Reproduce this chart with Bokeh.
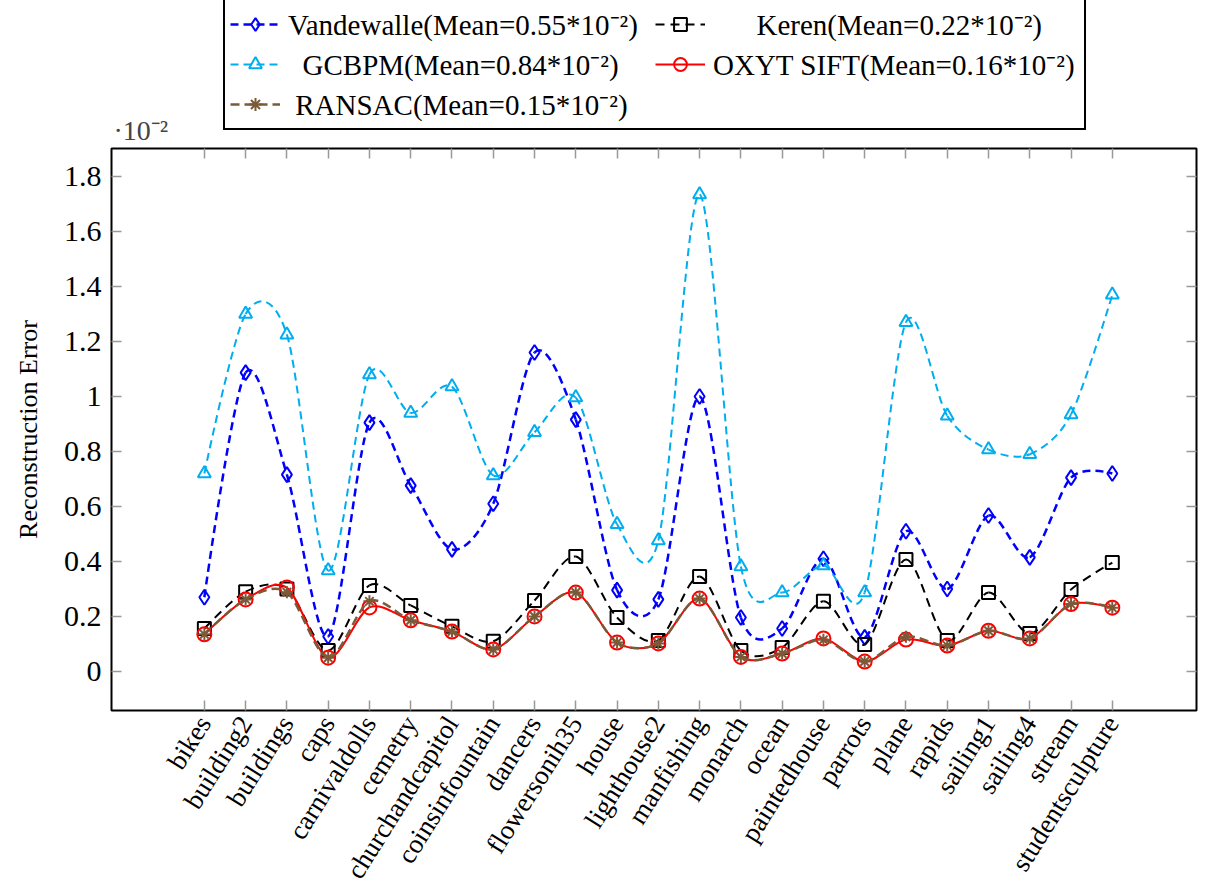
from bokeh.plotting import figure
from bokeh.layouts import column
from bokeh.models import Range1d, FixedTicker, LinearAxis, Legend, LegendItem, Label
from bokeh.embed import file_html
from bokeh.resources import INLINE

categories = ["bikes", "building2", "buildings", "caps", "carnivaldolls", "cemetry",
              "churchandcapitol", "coinsinfountain", "dancers", "flowersonih35", "house",
              "lighthouse2", "manfishing", "monarch", "ocean", "paintedhouse", "parrots",
              "plane", "rapids", "sailing1", "sailing4", "stream", "studentsculpture"]

vandewalle = [0.27, 1.087, 0.716, 0.127, 0.905, 0.676, 0.444, 0.61, 1.16, 0.916, 0.296,
              0.262, 1.0, 0.196, 0.156, 0.41, 0.124, 0.51, 0.30, 0.567, 0.415, 0.705, 0.72]
keren = [0.156, 0.29, 0.30, 0.076, 0.313, 0.24, 0.164, 0.11, 0.258, 0.418, 0.196,
         0.113, 0.345, 0.076, 0.087, 0.255, 0.098, 0.407, 0.113, 0.287, 0.138, 0.298, 0.396]
gcbpm = [0.72, 1.30, 1.225, 0.367, 1.08, 0.94, 1.036, 0.713, 0.87, 0.996, 0.535,
         0.476, 1.735, 0.382, 0.287, 0.385, 0.287, 1.27, 0.93, 0.807, 0.79, 0.935, 1.37]
oxyt = [0.135, 0.262, 0.305, 0.05, 0.233, 0.186, 0.145, 0.08, 0.2, 0.287, 0.105,
        0.102, 0.265, 0.053, 0.065, 0.12, 0.036, 0.116, 0.094, 0.148, 0.12, 0.245, 0.232]
ransac = [0.135, 0.262, 0.288, 0.05, 0.255, 0.186, 0.145, 0.08, 0.2, 0.287, 0.105,
          0.102, 0.265, 0.053, 0.065, 0.115, 0.036, 0.126, 0.094, 0.148, 0.12, 0.245, 0.232]

NB = "\u00a0"
legend_labels = ["Vandewalle(Mean=0.55*10\u207b\u00b2)",
                 NB * 6 + "Keren(Mean=0.22*10\u207b\u00b2)",
                 NB * 2 + "GCBPM(Mean=0.84*10\u207b\u00b2)",
                 "OXYT SIFT(Mean=0.16*10\u207b\u00b2)",
                 NB + "RANSAC(Mean=0.15*10\u207b\u00b2)"]

y_ticks = [0, 0.2, 0.4, 0.6, 0.8, 1, 1.2, 1.4, 1.6, 1.8]
y_tick_labels = ["0", "0.2", "0.4", "0.6", "0.8", "1", "1.2", "1.4", "1.6", "1.8"]
scale_label = "\u00b710\u207b\u00b2"

xs = list(range(len(categories)))
FONT = "Liberation Serif"

# ---------------- main chart ----------------
p = figure(width=1205, height=748, output_backend="svg", toolbar_location=None,
           x_range=Range1d(-2.25, 24.04), y_range=Range1d(-0.142, 1.902),
           min_border_left=111, min_border_right=9, min_border_top=2,
           min_border_bottom=184)
p.grid.visible = False
p.outline_line_color = "black"
p.outline_line_width = 2

bottom = p.below[0]
left = p.left[0]
bottom.ticker = FixedTicker(ticks=xs)
bottom.major_label_overrides = {i: c for i, c in enumerate(categories)}
bottom.major_label_orientation = 1.01
bottom.major_label_text_font_size = "27px"
bottom.major_label_standoff = 8
left.ticker = FixedTicker(ticks=y_ticks)
left.major_label_overrides = {t: s for t, s in zip(y_ticks, y_tick_labels)}
left.major_label_text_font_size = "30px"
left.major_label_standoff = 10
left.axis_label = "Reconstruction Error"
left.axis_label_text_font = FONT
left.axis_label_text_font_size = "26px"
left.axis_label_text_font_style = "normal"
left.axis_label_text_color = "black"
left.axis_label_standoff = 18

top = LinearAxis(ticker=FixedTicker(ticks=xs))
right = LinearAxis(ticker=FixedTicker(ticks=y_ticks))
p.add_layout(top, "above")
p.add_layout(right, "right")

for ax in [bottom, left, top, right]:
    ax.axis_line_color = None
    ax.major_tick_in = 10
    ax.major_tick_out = 0
    ax.major_tick_line_color = "#999999"
    ax.major_tick_line_width = 1.5
    ax.minor_tick_line_color = None
    ax.major_label_text_font = FONT
    ax.major_label_text_color = "black"
for ax in [top, right]:
    ax.major_label_text_color = None
    ax.major_label_text_font_size = "1px"
    ax.major_label_standoff = 0

T = 0.15


def smooth(ys):
    n = len(ys)
    x0, y0, x1, y1, cx0, cy0, cx1, cy1 = [], [], [], [], [], [], [], []
    for i in range(n - 1):
        x0.append(xs[i]); y0.append(ys[i]); x1.append(xs[i + 1]); y1.append(ys[i + 1])
        if i == 0:
            cx0.append(xs[i]); cy0.append(ys[i])
        else:
            cx0.append(xs[i] + T * (xs[i + 1] - xs[i - 1]))
            cy0.append(ys[i] + T * (ys[i + 1] - ys[i - 1]))
        if i + 1 == n - 1:
            cx1.append(xs[i + 1]); cy1.append(ys[i + 1])
        else:
            cx1.append(xs[i + 1] - T * (xs[i + 2] - xs[i]))
            cy1.append(ys[i + 1] - T * (ys[i + 2] - ys[i]))
    return dict(x0=x0, y0=y0, x1=x1, y1=y1, cx0=cx0, cy0=cy0, cx1=cx1, cy1=cy1)


series = [
    (vandewalle, "#0000FF", "8 5", 2.5, "diamond", 15),
    (keren, "black", "9 6", 2.0, "square", 13),
    (gcbpm, "#00ADEF", "8 5", 2.0, "triangle", 13),
    (oxyt, "#FF0000", "solid", 2.0, "circle", 14),
    (ransac, "#7B5A3A", "9 5", 2.5, "asterisk", 12),
]

for ys, color, dash, lw, marker, size in series:
    p.bezier(line_color=color, line_width=lw, line_dash=dash, **smooth(ys))
    p.scatter(xs, ys, marker=marker, size=size, line_color=color,
              fill_color=None if marker != "asterisk" else color, line_width=2)

# ---------------- legend strip ----------------
lg = figure(width=1205, height=146, output_backend="svg", toolbar_location=None,
            x_axis_type=None, y_axis_type=None, x_range=Range1d(0, 1),
            y_range=Range1d(0, 1), min_border=0)
lg.grid.visible = False
lg.outline_line_color = None

# legend swatch renderers: their data lies outside the strip's visible range
hidden_x = [5, 6]
hidden_y = [5, 6]
items = []
for (ys, color, dash, lw, marker, size), lab in zip(series, legend_labels):
    ll = lg.line(hidden_x, hidden_y, line_color=color, line_width=lw, line_dash=dash)
    ss = lg.scatter(hidden_x, hidden_y, marker=marker, size=size, line_color=color,
                    fill_color=None if marker != "asterisk" else color, line_width=2)
    items.append(LegendItem(label=lab, renderers=[ll, ss]))

order = [0, 2, 4, 1, 3]
legend = Legend(items=[items[i] for i in order], location=(112, 16), nrows=3,
                orientation="vertical")
legend.label_text_font = FONT
legend.label_text_font_size = "29px"
legend.label_text_color = "black"
legend.border_line_color = "black"
legend.border_line_width = 2
legend.border_line_alpha = 1.0
legend.background_fill_alpha = 1.0
legend.padding = 5
legend.spacing = 1
legend.label_height = 32
legend.label_width = 366
legend.glyph_height = 32
legend.glyph_width = 50
legend.label_standoff = 8
legend.margin = 0
lg.add_layout(legend, "center")

lg.add_layout(Label(x=2, y=16, x_units="screen", y_units="screen", text=scale_label,
                    text_font=FONT, text_font_size="28px", text_baseline="middle",
                    text_align="left"))

layout = column(lg, p, spacing=0)
open("out.html", "w").write(file_html(layout, INLINE))
